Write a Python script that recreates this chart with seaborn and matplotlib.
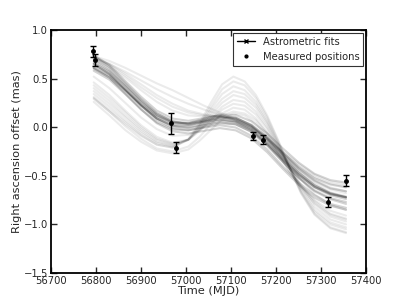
import pandas as pd
import matplotlib
matplotlib.use("Agg")
import matplotlib.pyplot as plt
import seaborn as sns
from matplotlib.lines import Line2D

# measured positions
obs_mjd = [56794, 56798, 56966, 56977, 57148, 57170, 57316, 57356]
obs_ra = [0.78, 0.69, 0.04, -0.21, -0.09, -0.13, -0.77, -0.55]
obs_err = [0.055, 0.06, 0.11, 0.06, 0.04, 0.045, 0.055, 0.055]

# astrometric fit curves at these times
fit_mjd = [56795, 56830, 56865, 56900, 56935, 56970, 57005, 57040, 57075,
           57110, 57145, 57180, 57215, 57250, 57285, 57320, 57355]

# main (dark) bundle
fit_a1 = [0.68, 0.58, 0.42, 0.26, 0.12, 0.04, 0.02, 0.05, 0.08, 0.06, -0.02, -0.16, -0.33, -0.49, -0.62, -0.70, -0.74]
fit_a2 = [0.65, 0.55, 0.39, 0.23, 0.09, 0.01, -0.01, 0.02, 0.05, 0.03, -0.05, -0.19, -0.36, -0.52, -0.65, -0.73, -0.77]
fit_a3 = [0.66, 0.57, 0.42, 0.26, 0.125, 0.05, 0.04, 0.07, 0.11, 0.10, 0.02, -0.11, -0.275, -0.43, -0.55, -0.63, -0.66]
fit_a4 = [0.73, 0.62, 0.455, 0.29, 0.145, 0.06, 0.03, 0.056, 0.08, 0.054, -0.03, -0.18, -0.355, -0.52, -0.66, -0.74, -0.79]
fit_a5 = [0.70, 0.60, 0.44, 0.28, 0.14, 0.06, 0.04, 0.07, 0.10, 0.08, 0.00, -0.14, -0.31, -0.47, -0.60, -0.68, -0.72]
fit_a6 = [0.65, 0.546, 0.385, 0.22, 0.075, -0.01, -0.03, -0.006, 0.02, -0.004, -0.09, -0.23, -0.405, -0.57, -0.70, -0.79, -0.83]
fit_a7 = [0.60, 0.51, 0.37, 0.22, 0.09, 0.02, 0.015, 0.06, 0.10, 0.09, 0.025, -0.10, -0.26, -0.41, -0.525, -0.59, -0.62]
fit_a8 = [0.61, 0.525, 0.38, 0.235, 0.11, 0.045, 0.04, 0.085, 0.13, 0.125, 0.06, -0.065, -0.22, -0.365, -0.48, -0.545, -0.57]
fit_a9 = [0.635, 0.539, 0.385, 0.226, 0.09, 0.014, -0.003, 0.031, 0.065, 0.049, -0.028, -0.164, -0.33, -0.486, -0.613, -0.689, -0.725]
fit_a10 = [0.74, 0.638, 0.475, 0.313, 0.17, 0.088, 0.065, 0.093, 0.12, 0.098, 0.015, -0.128, -0.30, -0.463, -0.595, -0.678, -0.72]
fit_a11 = [0.58, 0.488, 0.34, 0.183, 0.05, -0.023, -0.035, 0.003, 0.04, 0.028, -0.045, -0.178, -0.34, -0.493, -0.615, -0.688, -0.72]
fit_a12 = [0.61, 0.508, 0.345, 0.183, 0.04, -0.043, -0.065, -0.038, -0.01, -0.033, -0.115, -0.258, -0.43, -0.593, -0.725, -0.808, -0.85]

# upper, slowly falling curves
fit_u1 = [0.73, 0.68, 0.61, 0.53, 0.45, 0.38, 0.30, 0.22, 0.15, 0.08, 0.00, -0.11, -0.25, -0.38, -0.49, -0.56, -0.59]
fit_u2 = [0.71, 0.65, 0.57, 0.48, 0.39, 0.31, 0.24, 0.18, 0.13, 0.07, -0.01, -0.12, -0.26, -0.40, -0.51, -0.58, -0.61]
fit_u3 = [0.72, 0.64, 0.53, 0.41, 0.30, 0.21, 0.15, 0.12, 0.11, 0.07, 0.00, -0.12, -0.27, -0.42, -0.54, -0.62, -0.66]
fit_u4 = [0.72, 0.65, 0.55, 0.44, 0.33, 0.24, 0.17, 0.13, 0.11, 0.07, 0.00, -0.13, -0.29, -0.45, -0.58, -0.67, -0.71]
fit_u5 = [0.70, 0.62, 0.51, 0.38, 0.26, 0.17, 0.12, 0.11, 0.11, 0.08, 0.01, -0.12, -0.28, -0.43, -0.56, -0.64, -0.68]

# curves with the bump near MJD 57100, read on a finer grid
bump_mjd = [56795, 56830, 56865, 56900, 56935, 56970, 57005, 57030, 57055, 57080,
            57105, 57130, 57155, 57180, 57205, 57230, 57255, 57285, 57320, 57355]

fit_b1 = [0.29, 0.16, 0.03, -0.09, -0.18, -0.21, -0.12, 0.04, 0.25, 0.44, 0.52, 0.47, 0.33, 0.12, -0.14, -0.42, -0.68, -0.90, -1.04, -1.09]
fit_b2 = [0.31, 0.18, 0.05, -0.08, -0.18, -0.21, -0.13, 0.02, 0.21, 0.39, 0.47, 0.43, 0.30, 0.10, -0.15, -0.42, -0.67, -0.89, -1.03, -1.08]
fit_b3 = [0.34, 0.21, 0.07, -0.06, -0.16, -0.20, -0.13, 0.01, 0.18, 0.34, 0.42, 0.38, 0.26, 0.07, -0.17, -0.42, -0.66, -0.87, -1.00, -1.05]
fit_b4 = [0.37, 0.24, 0.10, -0.04, -0.15, -0.19, -0.13, -0.01, 0.15, 0.29, 0.37, 0.34, 0.23, 0.05, -0.18, -0.42, -0.64, -0.85, -0.98, -1.03]
fit_b5 = [0.40, 0.27, 0.12, -0.02, -0.13, -0.18, -0.13, -0.02, 0.12, 0.25, 0.33, 0.30, 0.20, 0.03, -0.19, -0.42, -0.62, -0.82, -0.95, -1.00]
fit_b6 = [0.43, 0.30, 0.15, 0.00, -0.12, -0.17, -0.13, -0.03, 0.09, 0.21, 0.28, 0.26, 0.16, 0.00, -0.21, -0.42, -0.60, -0.79, -0.92, -0.97]
fit_b7 = [0.46, 0.33, 0.17, 0.02, -0.10, -0.16, -0.13, -0.04, 0.07, 0.18, 0.24, 0.22, 0.13, -0.02, -0.22, -0.42, -0.59, -0.76, -0.89, -0.94]
fit_b8 = [0.30, 0.16, 0.01, -0.12, -0.22, -0.25, -0.20, -0.10, 0.03, 0.14, 0.20, 0.18, 0.09, -0.06, -0.26, -0.46, -0.62, -0.78, -0.90, -0.95]
fit_b9 = [0.26, 0.12, -0.03, -0.15, -0.24, -0.27, -0.23, -0.14, -0.03, 0.08, 0.14, 0.12, 0.04, -0.10, -0.28, -0.46, -0.61, -0.75, -0.86, -0.91]
fit_b10 = [0.52, 0.40, 0.25, 0.10, -0.02, -0.09, -0.08, -0.03, 0.05, 0.12, 0.16, 0.14, 0.07, -0.06, -0.22, -0.39, -0.54, -0.69, -0.80, -0.85]

main_fits = [fit_a1, fit_a2, fit_a3, fit_a4, fit_a5, fit_a6,
             fit_a7, fit_a8, fit_a9, fit_a10, fit_a11, fit_a12]
upper_fits = [fit_u1, fit_u2, fit_u3, fit_u4, fit_u5]
bump_fits = [fit_b1, fit_b2, fit_b3, fit_b4, fit_b5,
             fit_b6, fit_b7, fit_b8, fit_b9, fit_b10]


def to_long(times, curves):
    rows = []
    for i, curve in enumerate(curves):
        for t, v in zip(times, curve):
            rows.append({"curve": i, "mjd": t, "ra": v})
    return pd.DataFrame(rows)


sns.set_style("ticks", {"xtick.direction": "in", "ytick.direction": "in"})
plt.rcParams["font.family"] = ["DejaVu Sans"]

fig = plt.figure(figsize=(4.07, 3.05), dpi=100)
ax = fig.add_axes([0.125, 0.105, 0.775, 0.797])

line_kw = dict(x="mjd", y="ra", units="curve", estimator=None,
               color="black", lw=1.5, ax=ax, legend=False)
sns.lineplot(data=to_long(bump_mjd, bump_fits), alpha=0.08, **line_kw)
sns.lineplot(data=to_long(fit_mjd, upper_fits), alpha=0.08, **line_kw)
sns.lineplot(data=to_long(fit_mjd, main_fits), alpha=0.17, **line_kw)

ax.errorbar(obs_mjd, obs_ra, yerr=obs_err, fmt=".", color="black",
            ms=5, elinewidth=1, capsize=2, capthick=1)

ax.set_xlim(56700, 57400)
ax.set_ylim(-1.5, 1.0)
ax.set_xticks([56700, 56800, 56900, 57000, 57100, 57200, 57300, 57400])
ax.set_yticks([-1.5, -1.0, -0.5, 0.0, 0.5, 1.0])
ax.tick_params(top=True, right=True, length=4, width=1, labelsize=7.2, pad=2)
for s in ax.spines.values():
    s.set_linewidth(1.3)
    s.set_color("black")
ax.set_xlabel("Time (MJD)", fontsize=8.2, labelpad=0)
ax.set_ylabel("Right ascension offset (mas)", fontsize=8.2, labelpad=1)

handles = [Line2D([], [], color="black", marker="x", ms=3, lw=1),
           Line2D([], [], color="black", marker=".", ls="none", ms=4)]
leg = ax.legend(handles, ["Astrometric fits", "Measured positions"],
                loc="upper right", fontsize=7.2, fancybox=False,
                framealpha=1, edgecolor="0.2", borderaxespad=0.3,
                handlelength=1.8)
leg.get_frame().set_linewidth(0.8)

fig.savefig("out.png", dpi=100)
